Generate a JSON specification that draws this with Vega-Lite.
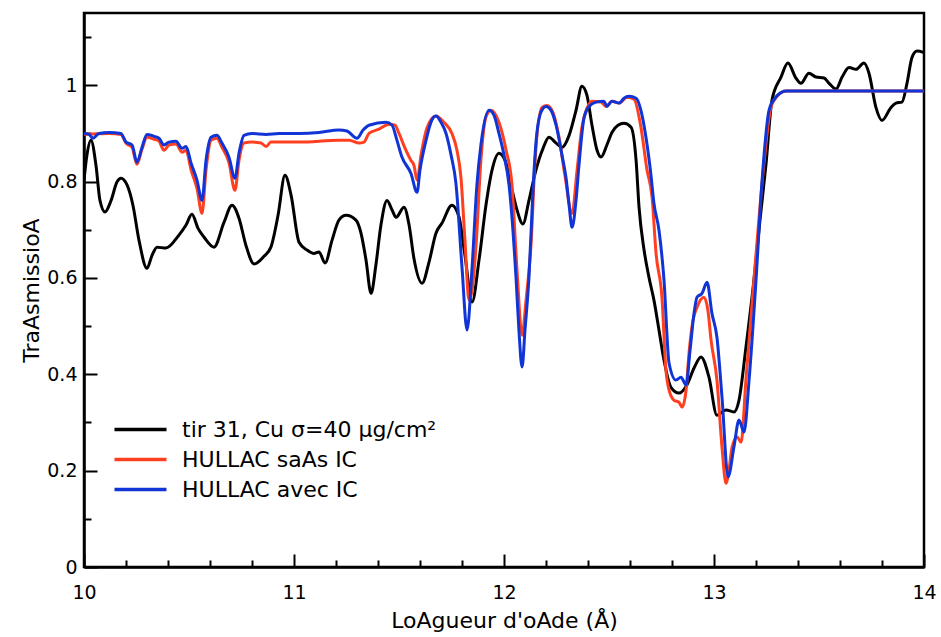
{
  "$schema": "https://vega.github.io/schema/vega-lite/v6.json",
  "width": 840,
  "height": 554,
  "autosize": {"type": "none"},
  "padding": {"left": 84, "top": 13, "right": 17, "bottom": 70},
  "background": "white",
  "config": {
    "view": {"stroke": "black", "strokeWidth": 2.5},
    "font": "DejaVu Sans",
    "axis": {
      "labelFont": "DejaVu Sans", "labelFontSize": 19, "labelColor": "black", "labelFlush": false,
      "titleFont": "DejaVu Sans", "titleFontSize": 22, "titleFontWeight": "normal", "titleColor": "black",
      "domainColor": "black", "domainWidth": 2.5, "tickColor": "black", "tickWidth": 2, "grid": false
    }
  },
  "datasets": {
    "exp": [
      {"x":10.000,"y":0.803},{"x":10.014,"y":0.855},{"x":10.033,"y":0.886},{"x":10.057,"y":0.834},{"x":10.076,"y":0.761},{"x":10.100,"y":0.737},{"x":10.129,"y":0.761},{"x":10.157,"y":0.799},{"x":10.176,"y":0.807},{"x":10.205,"y":0.793},{"x":10.233,"y":0.751},{"x":10.262,"y":0.678},{"x":10.300,"y":0.620},{"x":10.324,"y":0.647},{"x":10.348,"y":0.664},{"x":10.390,"y":0.662},{"x":10.452,"y":0.689},{"x":10.486,"y":0.710},{"x":10.514,"y":0.732},{"x":10.543,"y":0.703},{"x":10.571,"y":0.685},{"x":10.619,"y":0.664},{"x":10.667,"y":0.716},{"x":10.705,"y":0.751},{"x":10.738,"y":0.724},{"x":10.771,"y":0.668},{"x":10.810,"y":0.629},{"x":10.857,"y":0.645},{"x":10.890,"y":0.664},{"x":10.924,"y":0.730},{"x":10.957,"y":0.813},{"x":10.986,"y":0.772},{"x":11.024,"y":0.674},{"x":11.062,"y":0.658},{"x":11.095,"y":0.651},{"x":11.119,"y":0.654},{"x":11.148,"y":0.631},{"x":11.181,"y":0.678},{"x":11.214,"y":0.720},{"x":11.248,"y":0.730},{"x":11.295,"y":0.720},{"x":11.319,"y":0.693},{"x":11.343,"y":0.637},{"x":11.367,"y":0.568},{"x":11.390,"y":0.627},{"x":11.414,"y":0.710},{"x":11.443,"y":0.761},{"x":11.467,"y":0.741},{"x":11.486,"y":0.726},{"x":11.524,"y":0.747},{"x":11.548,"y":0.710},{"x":11.571,"y":0.641},{"x":11.610,"y":0.589},{"x":11.643,"y":0.633},{"x":11.676,"y":0.693},{"x":11.705,"y":0.714},{"x":11.752,"y":0.751},{"x":11.786,"y":0.726},{"x":11.814,"y":0.647},{"x":11.848,"y":0.550},{"x":11.881,"y":0.637},{"x":11.914,"y":0.751},{"x":11.943,"y":0.824},{"x":11.976,"y":0.859},{"x":12.005,"y":0.844},{"x":12.033,"y":0.793},{"x":12.062,"y":0.741},{"x":12.090,"y":0.712},{"x":12.119,"y":0.761},{"x":12.152,"y":0.824},{"x":12.186,"y":0.869},{"x":12.214,"y":0.892},{"x":12.248,"y":0.880},{"x":12.276,"y":0.871},{"x":12.310,"y":0.896},{"x":12.343,"y":0.948},{"x":12.371,"y":0.998},{"x":12.395,"y":0.979},{"x":12.419,"y":0.917},{"x":12.443,"y":0.865},{"x":12.462,"y":0.851},{"x":12.490,"y":0.876},{"x":12.514,"y":0.902},{"x":12.543,"y":0.917},{"x":12.571,"y":0.921},{"x":12.605,"y":0.913},{"x":12.629,"y":0.844},{"x":12.643,"y":0.747},{"x":12.667,"y":0.658},{"x":12.690,"y":0.602},{"x":12.714,"y":0.554},{"x":12.738,"y":0.492},{"x":12.762,"y":0.429},{"x":12.795,"y":0.373},{"x":12.833,"y":0.361},{"x":12.871,"y":0.378},{"x":12.905,"y":0.413},{"x":12.938,"y":0.436},{"x":12.976,"y":0.394},{"x":13.014,"y":0.315},{"x":13.057,"y":0.326},{"x":13.095,"y":0.322},{"x":13.119,"y":0.346},{"x":13.152,"y":0.456},{"x":13.190,"y":0.595},{"x":13.219,"y":0.720},{"x":13.248,"y":0.838},{"x":13.276,"y":0.969},{"x":13.319,"y":1.017},{"x":13.352,"y":1.046},{"x":13.390,"y":1.015},{"x":13.414,"y":1.004},{"x":13.452,"y":1.025},{"x":13.486,"y":1.017},{"x":13.524,"y":1.015},{"x":13.548,"y":1.004},{"x":13.581,"y":0.992},{"x":13.610,"y":1.017},{"x":13.643,"y":1.037},{"x":13.676,"y":1.033},{"x":13.714,"y":1.046},{"x":13.738,"y":1.025},{"x":13.771,"y":0.954},{"x":13.800,"y":0.927},{"x":13.843,"y":0.954},{"x":13.867,"y":0.963},{"x":13.895,"y":0.965},{"x":13.919,"y":1.004},{"x":13.943,"y":1.058},{"x":13.967,"y":1.071},{"x":14.000,"y":1.068}
    ],
    "sans": [
      {"x":10.000,"y":0.898},{"x":10.119,"y":0.900},{"x":10.176,"y":0.898},{"x":10.200,"y":0.880},{"x":10.229,"y":0.871},{"x":10.252,"y":0.836},{"x":10.276,"y":0.867},{"x":10.300,"y":0.892},{"x":10.333,"y":0.888},{"x":10.357,"y":0.884},{"x":10.381,"y":0.865},{"x":10.405,"y":0.876},{"x":10.438,"y":0.878},{"x":10.467,"y":0.861},{"x":10.486,"y":0.865},{"x":10.510,"y":0.824},{"x":10.538,"y":0.786},{"x":10.562,"y":0.734},{"x":10.581,"y":0.824},{"x":10.605,"y":0.886},{"x":10.633,"y":0.890},{"x":10.657,"y":0.871},{"x":10.690,"y":0.840},{"x":10.719,"y":0.782},{"x":10.738,"y":0.844},{"x":10.762,"y":0.880},{"x":10.800,"y":0.882},{"x":10.843,"y":0.880},{"x":10.867,"y":0.873},{"x":10.890,"y":0.882},{"x":11.024,"y":0.882},{"x":11.214,"y":0.886},{"x":11.262,"y":0.886},{"x":11.310,"y":0.880},{"x":11.333,"y":0.882},{"x":11.357,"y":0.900},{"x":11.405,"y":0.909},{"x":11.452,"y":0.919},{"x":11.481,"y":0.917},{"x":11.500,"y":0.900},{"x":11.529,"y":0.869},{"x":11.557,"y":0.844},{"x":11.571,"y":0.834},{"x":11.586,"y":0.803},{"x":11.605,"y":0.855},{"x":11.633,"y":0.911},{"x":11.676,"y":0.936},{"x":11.714,"y":0.923},{"x":11.752,"y":0.900},{"x":11.776,"y":0.865},{"x":11.795,"y":0.809},{"x":11.814,"y":0.678},{"x":11.833,"y":0.554},{"x":11.848,"y":0.575},{"x":11.867,"y":0.668},{"x":11.890,"y":0.844},{"x":11.914,"y":0.934},{"x":11.938,"y":0.948},{"x":11.976,"y":0.923},{"x":12.010,"y":0.865},{"x":12.038,"y":0.793},{"x":12.062,"y":0.616},{"x":12.086,"y":0.481},{"x":12.105,"y":0.554},{"x":12.129,"y":0.672},{"x":12.148,"y":0.844},{"x":12.181,"y":0.954},{"x":12.205,"y":0.958},{"x":12.233,"y":0.944},{"x":12.262,"y":0.892},{"x":12.290,"y":0.813},{"x":12.324,"y":0.734},{"x":12.348,"y":0.824},{"x":12.371,"y":0.913},{"x":12.395,"y":0.952},{"x":12.419,"y":0.967},{"x":12.462,"y":0.965},{"x":12.486,"y":0.956},{"x":12.514,"y":0.967},{"x":12.548,"y":0.963},{"x":12.586,"y":0.975},{"x":12.619,"y":0.971},{"x":12.652,"y":0.913},{"x":12.681,"y":0.824},{"x":12.705,"y":0.768},{"x":12.724,"y":0.651},{"x":12.752,"y":0.560},{"x":12.771,"y":0.409},{"x":12.786,"y":0.367},{"x":12.810,"y":0.346},{"x":12.833,"y":0.342},{"x":12.848,"y":0.332},{"x":12.867,"y":0.367},{"x":12.881,"y":0.444},{"x":12.900,"y":0.512},{"x":12.919,"y":0.539},{"x":12.952,"y":0.560},{"x":12.971,"y":0.533},{"x":12.986,"y":0.471},{"x":13.014,"y":0.388},{"x":13.038,"y":0.249},{"x":13.057,"y":0.174},{"x":13.071,"y":0.201},{"x":13.086,"y":0.249},{"x":13.110,"y":0.270},{"x":13.129,"y":0.259},{"x":13.152,"y":0.388},{"x":13.190,"y":0.595},{"x":13.238,"y":0.838},{"x":13.271,"y":0.954},{"x":13.300,"y":0.977},{"x":13.343,"y":0.988},{"x":13.500,"y":0.988},{"x":14.000,"y":0.988}
    ],
    "avec": [
      {"x":10.000,"y":0.900},{"x":10.024,"y":0.898},{"x":10.043,"y":0.890},{"x":10.071,"y":0.900},{"x":10.119,"y":0.902},{"x":10.176,"y":0.900},{"x":10.200,"y":0.882},{"x":10.229,"y":0.876},{"x":10.252,"y":0.840},{"x":10.276,"y":0.871},{"x":10.300,"y":0.898},{"x":10.333,"y":0.894},{"x":10.357,"y":0.890},{"x":10.381,"y":0.876},{"x":10.405,"y":0.882},{"x":10.438,"y":0.884},{"x":10.467,"y":0.869},{"x":10.486,"y":0.873},{"x":10.510,"y":0.838},{"x":10.538,"y":0.803},{"x":10.562,"y":0.761},{"x":10.581,"y":0.844},{"x":10.605,"y":0.892},{"x":10.633,"y":0.896},{"x":10.657,"y":0.880},{"x":10.690,"y":0.851},{"x":10.719,"y":0.807},{"x":10.738,"y":0.859},{"x":10.762,"y":0.896},{"x":10.800,"y":0.900},{"x":10.867,"y":0.898},{"x":10.929,"y":0.900},{"x":11.024,"y":0.900},{"x":11.119,"y":0.902},{"x":11.214,"y":0.907},{"x":11.252,"y":0.905},{"x":11.300,"y":0.890},{"x":11.329,"y":0.907},{"x":11.357,"y":0.917},{"x":11.438,"y":0.923},{"x":11.467,"y":0.917},{"x":11.490,"y":0.886},{"x":11.514,"y":0.851},{"x":11.557,"y":0.817},{"x":11.586,"y":0.778},{"x":11.600,"y":0.824},{"x":11.629,"y":0.886},{"x":11.652,"y":0.923},{"x":11.676,"y":0.936},{"x":11.700,"y":0.923},{"x":11.724,"y":0.900},{"x":11.748,"y":0.855},{"x":11.771,"y":0.797},{"x":11.800,"y":0.622},{"x":11.824,"y":0.492},{"x":11.848,"y":0.622},{"x":11.871,"y":0.793},{"x":11.890,"y":0.876},{"x":11.929,"y":0.948},{"x":11.952,"y":0.938},{"x":11.976,"y":0.900},{"x":12.000,"y":0.855},{"x":12.024,"y":0.793},{"x":12.057,"y":0.602},{"x":12.071,"y":0.492},{"x":12.086,"y":0.415},{"x":12.100,"y":0.492},{"x":12.119,"y":0.602},{"x":12.138,"y":0.782},{"x":12.152,"y":0.880},{"x":12.176,"y":0.944},{"x":12.200,"y":0.956},{"x":12.224,"y":0.948},{"x":12.248,"y":0.917},{"x":12.276,"y":0.855},{"x":12.295,"y":0.809},{"x":12.310,"y":0.751},{"x":12.324,"y":0.705},{"x":12.343,"y":0.761},{"x":12.357,"y":0.834},{"x":12.381,"y":0.932},{"x":12.405,"y":0.956},{"x":12.438,"y":0.965},{"x":12.476,"y":0.967},{"x":12.490,"y":0.956},{"x":12.514,"y":0.967},{"x":12.548,"y":0.963},{"x":12.571,"y":0.973},{"x":12.595,"y":0.977},{"x":12.629,"y":0.973},{"x":12.652,"y":0.948},{"x":12.676,"y":0.892},{"x":12.700,"y":0.813},{"x":12.714,"y":0.755},{"x":12.738,"y":0.699},{"x":12.762,"y":0.595},{"x":12.786,"y":0.423},{"x":12.819,"y":0.388},{"x":12.843,"y":0.394},{"x":12.867,"y":0.378},{"x":12.886,"y":0.450},{"x":12.905,"y":0.527},{"x":12.919,"y":0.560},{"x":12.943,"y":0.568},{"x":12.967,"y":0.591},{"x":12.990,"y":0.527},{"x":13.014,"y":0.477},{"x":13.038,"y":0.353},{"x":13.067,"y":0.187},{"x":13.095,"y":0.249},{"x":13.119,"y":0.305},{"x":13.143,"y":0.280},{"x":13.167,"y":0.388},{"x":13.200,"y":0.595},{"x":13.229,"y":0.803},{"x":13.262,"y":0.948},{"x":13.290,"y":0.973},{"x":13.343,"y":0.988},{"x":13.500,"y":0.988},{"x":14.000,"y":0.988}
    ]
  },
  "layer": [
    {
      "data": {"name": "exp"},
      "mark": {"type": "line", "strokeWidth": 3, "interpolate": "monotone", "clip": true},
      "encoding": {
        "x": {
          "field": "x", "type": "quantitative",
          "scale": {"domain": [10, 14], "nice": false, "zero": false},
          "axis": {
            "title": "LoAgueur d'oAde (Å)",
            "titlePadding": 8,
            "values": [10,10.2,10.4,10.6,10.8,11,11.2,11.4,11.6,11.8,12,12.2,12.4,12.6,12.8,13,13.2,13.4,13.6,13.8,14],
            "tickSize": {"condition": {"test": "abs(datum.value - round(datum.value)) < 0.000001", "value": -13}, "value": -7},
            "labelExpr": "abs(datum.value - round(datum.value)) < 0.000001 ? format(datum.value, '~g') : ''",
            "labelPadding": 29
          }
        },
        "y": {
          "field": "y", "type": "quantitative",
          "scale": {"domain": [0, 1.15], "nice": false},
          "axis": {
            "title": "TraAsmissioA",
            "titlePadding": 3,
            "values": [0,0.05,0.1,0.15,0.2,0.25,0.3,0.35,0.4,0.45,0.5,0.55,0.6,0.65,0.7,0.75,0.8,0.85,0.9,0.95,1,1.05,1.1],
            "tickSize": {"condition": {"test": "abs(datum.value*5 - round(datum.value*5)) < 0.000001", "value": -13}, "value": -7},
            "labelExpr": "abs(datum.value*5 - round(datum.value*5)) < 0.000001 ? format(datum.value, '~g') : ''",
            "labelPadding": 20
          }
        },
        "color": {
          "datum": "tir 31, Cu σ=40 μg/cm²",
          "type": "nominal",
          "scale": {
            "domain": ["tir 31, Cu σ=40 μg/cm²", "HULLAC saAs IC", "HULLAC avec IC"],
            "range": ["#000000", "#ff4020", "#1034d6"]
          },
          "legend": {
            "orient": "none", "legendX": 44, "legendY": 404, "title": null, "padding": 0,
            "symbolType": "M-2.5,0H2.5", "symbolSize": 433, "symbolStrokeWidth": 3.5,
            "labelFont": "DejaVu Sans", "labelFontSize": 22, "labelColor": "black",
            "labelOffset": 29, "rowPadding": 6, "labelLimit": 400
          }
        }
      }
    },
    {
      "data": {"name": "sans"},
      "mark": {"type": "line", "strokeWidth": 3, "interpolate": "monotone", "clip": true},
      "encoding": {
        "x": {"field": "x", "type": "quantitative"},
        "y": {"field": "y", "type": "quantitative"},
        "color": {"datum": "HULLAC saAs IC", "type": "nominal"}
      }
    },
    {
      "data": {"name": "avec"},
      "mark": {"type": "line", "strokeWidth": 3, "interpolate": "monotone", "clip": true},
      "encoding": {
        "x": {"field": "x", "type": "quantitative"},
        "y": {"field": "y", "type": "quantitative"},
        "color": {"datum": "HULLAC avec IC", "type": "nominal"}
      }
    }
  ]
}
